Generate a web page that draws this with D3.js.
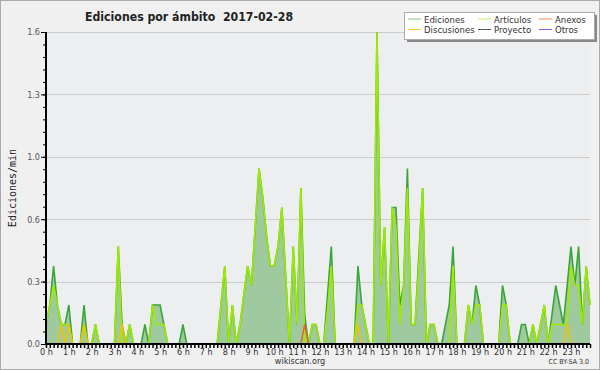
<!DOCTYPE html>
<html>
<head>
<meta charset="utf-8">
<script src="https://cdn.jsdelivr.net/npm/d3@7"></script>
<style>
  body { margin: 0; background: #fff; }
  svg { display: block; }
  text { font-family: "DejaVu Sans Condensed", "DejaVu Sans", sans-serif; }
</style>
</head>
<body>
<svg id="chart" width="600" height="370"></svg>
<script>
// edits per minute, one value per 10 minutes (0:00 .. 23:50), six per row = one hour
const ediciones = [
  0.1, 0.2, 0.4, 0.2, 0.1, 0.1,   0.2, 0, 0, 0, 0.2, 0,
  0, 0.1, 0, 0, 0, 0,             0, 0.5, 0.1, 0, 0.1, 0,
  0, 0, 0.1, 0, 0.2, 0.2,         0.2, 0.1, 0, 0, 0, 0,
  0.1, 0, 0, 0, 0, 0,             0, 0, 0, 0, 0.2, 0.4,
  0, 0.2, 0, 0.1, 0.25, 0.4,      0.3, 0.6, 0.9, 0.75, 0.55, 0.4,
  0.4, 0.5, 0.7, 0.35, 0, 0.5,    0.1, 0.8, 0.15, 0, 0.1, 0.1,
  0, 0, 0.25, 0.5, 0, 0,          0, 0, 0, 0, 0.4, 0.2,
  0.1, 0, 0, 1.6, 0.3, 0.6,       0, 0.7, 0.7, 0.2, 0.3, 0.9,
  0.1, 0.1, 0.45, 0.8, 0, 0.1,    0.1, 0, 0, 0.1, 0.2, 0.5,
  0, 0, 0, 0.2, 0.1, 0.3,         0.2, 0, 0, 0, 0, 0,
  0.3, 0.2, 0, 0, 0, 0.1,         0.1, 0, 0.1, 0, 0.1, 0.2,
  0, 0.15, 0.3, 0.2, 0.1, 0.3,    0.5, 0.3, 0.5, 0.1, 0.4, 0.2
];
const articulos = [
  0.1, 0.2, 0.3, 0.2, 0.1, 0.1,   0.1, 0, 0, 0, 0.1, 0,
  0, 0.1, 0, 0, 0, 0,             0, 0.5, 0, 0, 0.1, 0,
  0, 0, 0, 0, 0.2, 0.1,           0.1, 0.1, 0, 0, 0, 0,
  0, 0, 0, 0, 0, 0,               0, 0, 0, 0, 0.2, 0.4,
  0, 0.2, 0, 0.1, 0.25, 0.4,      0.3, 0.6, 0.9, 0.75, 0.55, 0.4,
  0.4, 0.5, 0.7, 0.35, 0, 0.5,    0.1, 0.8, 0, 0, 0.1, 0.1,
  0, 0, 0.17, 0.4, 0, 0,          0, 0, 0, 0, 0.2, 0.2,
  0.1, 0, 0, 1.6, 0.3, 0.6,       0, 0.7, 0.6, 0.1, 0.3, 0.8,
  0.1, 0.1, 0.4, 0.8, 0, 0.1,     0.1, 0, 0, 0, 0, 0.4,
  0, 0, 0, 0.2, 0.1, 0.2,         0.2, 0, 0, 0, 0, 0,
  0.2, 0.2, 0, 0, 0, 0,           0, 0, 0.1, 0, 0.1, 0.2,
  0, 0.1, 0.1, 0.1, 0.1, 0.1,     0.4, 0.3, 0.3, 0.1, 0.4, 0.2
];
const discusiones = new Array(144).fill(0);
[4, 6, 10, 20, 82, 137].forEach(i => discusiones[i] = 0.1);
const anexos = new Array(144).fill(0);
anexos[68] = 0.1;

const hourLabels = d3.range(24).map(h => h + " h");
const yTicks = [0, 0.32, 0.64, 0.96, 1.28, 1.6];

const legendItems = [
  { name: "Ediciones", color: "#88cc88" },
  { name: "Artículos", color: "#ccee55" },
  { name: "Anexos", color: "#ee8855" },
  { name: "Discusiones", color: "#f5d042" },
  { name: "Proyecto", color: "#555555" },
  { name: "Otros", color: "#9955ee" }
];

const width = 600, height = 370;
const mLeft = 46, mRight = 590, mTop = 32, mBottom = 344;

const svg = d3.select("#chart");

svg.append("rect")
  .attr("x", 0.5).attr("y", 0.5)
  .attr("width", width - 1).attr("height", height - 1)
  .attr("fill", "#f0f0f0")
  .attr("stroke", "#aaaaaa");

svg.append("rect")
  .attr("x", mLeft).attr("y", mTop)
  .attr("width", mRight - mLeft).attr("height", mBottom - mTop)
  .attr("fill", "#eceef0");

const x = d3.scaleLinear().domain([0, 143]).range([mLeft, mRight]);
const y = d3.scaleLinear().domain([0, 1.6]).range([mBottom, mTop]);

// grid
svg.append("g")
  .selectAll("line")
  .data(yTicks.slice(1))
  .enter()
  .append("line")
  .attr("x1", mLeft).attr("x2", mRight)
  .attr("y1", d => Math.round(y(d)) + 0.5)
  .attr("y2", d => Math.round(y(d)) + 0.5)
  .attr("stroke", "#cccccc");

// Ediciones area
const idx = d3.range(144);
svg.append("path")
  .datum(idx)
  .attr("fill", "#9fc99f")
  .attr("d", d3.area().x(i => x(i)).y0(mBottom).y1(i => y(ediciones[i])));

const line = arr => d3.line().x(i => x(i)).y(i => y(arr[i]));

svg.append("path")
  .datum(idx)
  .attr("fill", "none")
  .attr("stroke", "#3aa53a")
  .attr("stroke-width", 1.6)
  .attr("d", line(ediciones));

svg.append("path")
  .datum(idx)
  .attr("fill", "none")
  .attr("stroke", "#a0ea00")
  .attr("stroke-width", 1.6)
  .attr("d", line(articulos));

svg.append("path")
  .datum(idx)
  .attr("fill", "none")
  .attr("stroke", "#f0c400")
  .attr("stroke-width", 1.4)
  .attr("d", line(discusiones));

svg.append("path")
  .datum(idx)
  .attr("fill", "none")
  .attr("stroke", "#e8641e")
  .attr("stroke-width", 1.4)
  .attr("d", line(anexos));

// y axis
const yAxis = d3.axisLeft(y)
  .tickValues(yTicks)
  .tickFormat(d3.format(".1f"))
  .tickSize(5)
  .tickPadding(1);

const gy = svg.append("g")
  .attr("transform", `translate(${mLeft},0)`)
  .call(yAxis);
gy.select(".domain").remove();
gy.selectAll("text").attr("font-size", 9).attr("fill", "#555");

svg.append("g")
  .attr("transform", `translate(${mLeft},0)`)
  .call(d3.axisLeft(y).tickValues(d3.range(0, 1.6001, 0.064)).tickSize(3).tickFormat(""))
  .select(".domain").remove();

svg.append("line")
  .attr("x1", mLeft).attr("x2", mLeft)
  .attr("y1", mTop).attr("y2", mBottom + 1)
  .attr("stroke", "#000").attr("stroke-width", 2);

// x axis
const xAxis = d3.axisBottom(x)
  .tickValues(idx)
  .tickSize(4)
  .tickPadding(1)
  .tickFormat(i => i % 6 === 0 ? hourLabels[i / 6] : "");

const gx = svg.append("g")
  .attr("transform", `translate(0,${mBottom})`)
  .call(xAxis);
gx.select(".domain").remove();
gx.selectAll("line").attr("stroke-width", 1.5);
gx.selectAll("text").attr("font-size", 9).attr("fill", "#333");

svg.append("line")
  .attr("x1", mLeft - 1).attr("x2", mRight)
  .attr("y1", mBottom).attr("y2", mBottom)
  .attr("stroke", "#000").attr("stroke-width", 2);

// titles
svg.append("text")
  .attr("x", 85).attr("y", 21)
  .attr("font-size", 12.2)
  .attr("font-weight", "bold")
  .attr("fill", "#222")
  .style("white-space", "pre")
  .text("Ediciones por ámbito  2017-02-28");

svg.append("text")
  .attr("transform", "translate(16,188) rotate(-90)")
  .attr("text-anchor", "middle")
  .attr("font-size", 10)
  .attr("fill", "#222")
  .style("font-family", "'DejaVu Sans Mono', monospace")
  .text("Ediciones/min");

svg.append("text")
  .attr("x", 300).attr("y", 364)
  .attr("text-anchor", "middle")
  .attr("font-size", 9)
  .attr("fill", "#333")
  .text("wikiscan.org");

svg.append("text")
  .attr("x", 589).attr("y", 364)
  .attr("text-anchor", "end")
  .attr("font-size", 7)
  .attr("fill", "#333")
  .text("CC BY-SA 3.0");

// legend
const legend = svg.append("g");
legend.append("rect")
  .attr("x", 407).attr("y", 15).attr("width", 190).attr("height", 27)
  .attr("fill", "#888");
legend.append("rect")
  .attr("x", 404.5).attr("y", 12.5).attr("width", 190).attr("height", 27)
  .attr("fill", "#fff").attr("stroke", "#aaa");

const colX = [408, 478, 539];
const rowY = [19.5, 30];
legendItems.forEach((d, k) => {
  const cx = colX[k % 3], cy = rowY[Math.floor(k / 3)];
  legend.append("line")
    .attr("x1", cx).attr("x2", cx + 13)
    .attr("y1", cy - 0.5).attr("y2", cy - 0.5)
    .attr("stroke", d.color).attr("stroke-width", 1);
  legend.append("text")
    .attr("x", cx + 16).attr("y", cy + 3.3)
    .attr("font-size", 9.5)
    .attr("fill", "#333")
    .text(d.name);
});
</script>
</body>
</html>
